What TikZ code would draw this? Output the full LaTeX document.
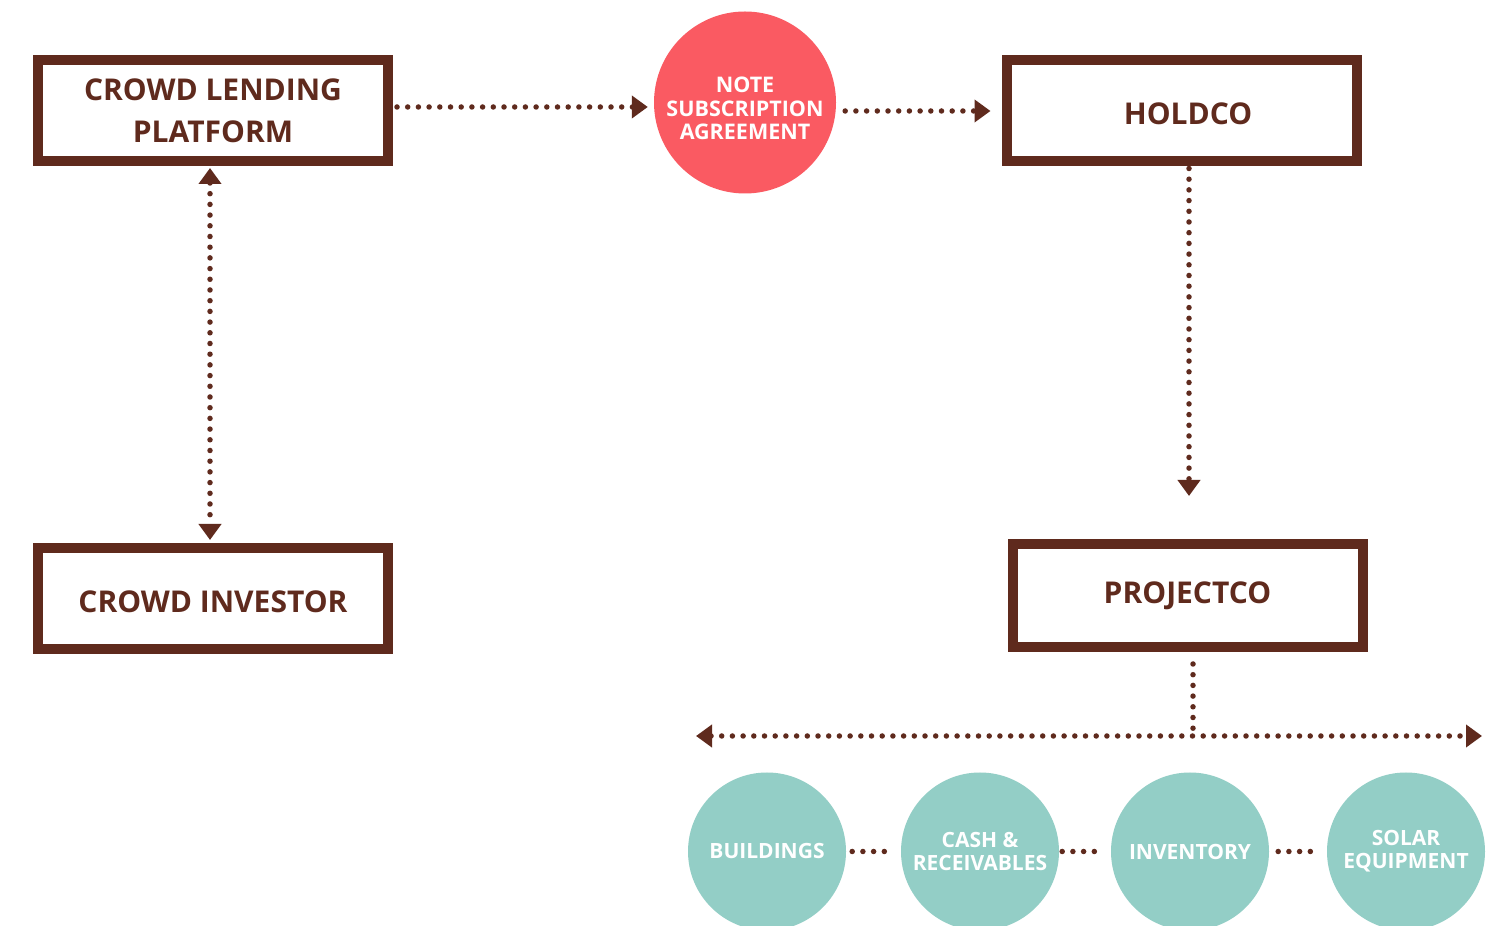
\documentclass[tikz,border=0pt]{standalone}
\usepackage{fontspec}
\setmainfont{Open Sans}
\usetikzlibrary{arrows.meta}
\definecolor{brownc}{HTML}{5F2A1D}
\definecolor{redc}{HTML}{FA5A62}
\definecolor{tealc}{HTML}{93CEC6}
\tikzset{
  boxnode/.style={draw=brownc, line width=10pt, fill=white, minimum width=350pt, minimum height=101pt,
    text=brownc, font=\bfseries\fontsize{30}{42}\selectfont, align=center, inner sep=0pt},
  notenode/.style={circle, fill=redc, minimum size=182pt, inner sep=0pt},
  notetext/.style={inner sep=0pt, text=white, font=\bfseries\fontsize{21.5}{23.5}\selectfont, align=center},
  assetnode/.style={circle, fill=tealc, minimum size=158pt, inner sep=0pt, text=white,
    font=\bfseries\fontsize{21}{23}\selectfont, align=center},
  dotline/.style={draw=brownc, line width=5.5pt, line cap=round, dash pattern=on 0pt off 10.7pt},
  tip/.style={-{Triangle[width=22pt,length=16pt]}},
  bitip/.style={{Triangle[width=22pt,length=16pt]}-{Triangle[width=22pt,length=16pt]}},
}
\begin{document}
\begin{tikzpicture}[x=1pt,y=1pt]
\useasboundingbox (0,0) rectangle (1494,926);
\clip (0,0) rectangle (1494,926);
\fill[white] (0,0) rectangle (1494,926);

\node[boxnode] (clp) at (213,815.5) {CROWD LENDING\\PLATFORM};
\node[boxnode, align=none, text height=27pt, text depth=0pt] (inv) at (213,327) {CROWD INVESTOR};
\node[boxnode, align=none, text height=26.5pt, text depth=0pt] (hold) at (1181.5,815) {\hspace*{13pt}HOLDCO};
\node[boxnode, minimum height=103pt] (proj) at (1187.5,330.5) {PROJECTCO};
\node[notenode] (note) at (745,823.5) {};
\node[notetext] (notelbl) at ([yshift=-6pt]note.center) {NOTE\\SUBSCRIPTION\\AGREEMENT};

\node[assetnode] (c1) at (767,74.5) {BUILDINGS};
\node[assetnode] (c2) at (980,74.5) {CASH \&\\RECEIVABLES};
\node[assetnode] (c3) at (1190,74.5) {INVENTORY};
\node[assetnode] (c4) at (1406,74.5) {SOLAR\\EQUIPMENT};

\coordinate (junc) at (1193,190);
\coordinate (hl) at (696,190);
\coordinate (hr) at (1482,190);

\draw[dotline, tip, shorten <=4pt, shorten >=6pt] ([yshift=3.5pt]clp.east) -- ([yshift=-4.5pt]note.west);
\draw[dotline, tip, shorten <=9pt, shorten >=11pt] ([yshift=-8.5pt]note.east) -- (hold.west);
\draw[dotline, bitip, shorten <=2pt, shorten >=3.5pt] ([xshift=-3pt]clp.south) -- ([xshift=-3pt]inv.north);
\draw[dotline, tip, shorten <=2pt, shorten >=43pt] ([xshift=7.5pt]hold.south) -- ([xshift=1.5pt]proj.north);
\draw[dotline, shorten <=12pt] ([xshift=5.5pt]proj.south) -- (junc);
\draw[dotline, bitip] (hl) -- (hr);

\draw[dotline, shorten <=6pt, shorten >=7pt] (c1.east) -- (c2.west);
\draw[dotline, shorten <=3pt, shorten >=8pt] (c2.east) -- (c3.west);
\draw[dotline, shorten <=9pt, shorten >=8pt] (c3.east) -- (c4.west);
\end{tikzpicture}
\end{document}
